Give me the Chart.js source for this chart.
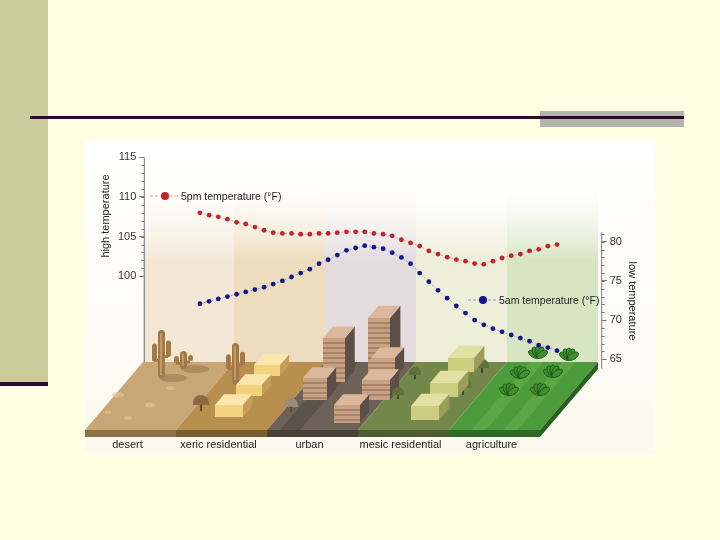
<!DOCTYPE html>
<html>
<head>
<meta charset="utf-8">
<title>High and low temperature across land use</title>
<script src="https://cdn.jsdelivr.net/npm/chart.js@4.4.1/dist/chart.umd.min.js"></script>
<style>
    html, body { margin: 0; padding: 0; background: #ffffe4; }
    canvas { display: block; }
</style>
</head>
<body>
<canvas id="tempChart" width="720" height="540"></canvas>
<script>
// values, one sample per dot along the transect
const zones = ['desert', 'xeric residential', 'urban', 'mesic residential', 'agriculture'];
const highTemp = [108.0, 107.7, 107.5, 107.2, 106.8, 106.6, 106.2, 105.8, 105.5, 105.4,
    105.4, 105.3, 105.3, 105.4, 105.4, 105.5, 105.6, 105.6, 105.6, 105.4,
    105.3, 105.1, 104.6, 104.2, 103.8, 103.2, 102.8, 102.4, 102.1, 101.9,
    101.6, 101.5, 101.9, 102.3, 102.6, 102.8, 103.2, 103.4, 103.8, 104.0];
const lowTemp = [72.1, 72.4, 72.7, 73.0, 73.3, 73.6, 73.9, 74.2, 74.6, 75.0,
    75.5, 76.0, 76.5, 77.2, 77.7, 78.3, 78.9, 79.2, 79.5, 79.3,
    79.1, 78.6, 78.0, 77.2, 76.0, 74.9, 73.8, 72.8, 71.8, 70.9,
    70.0, 69.4, 68.9, 68.5, 68.1, 67.7, 67.3, 66.8, 66.5, 66.1];
const highTicks = [100, 105, 110, 115];
const lowTicks = [65, 70, 75, 80];
const seriesNames = ['5pm temperature (°F)', '5am temperature (°F)'];
const axisTitles = ['high temperature', 'low temperature'];

const FONT = '"Liberation Sans", Arial, sans-serif';
const RED = '#c1232b', BLUE = '#15168a';

// ground slab geometry (picture, not data)
const front = [85, 176, 267, 358, 449, 540];
const DEPTH_X = 58, DEPTH_Y = -68, GROUND_FRONT = 430, GROUND_BACK = 362;
const zoneTop = ['#c9a676', '#b98f4e', '#6d6257', '#74874a', '#4c9b3c'];
const zoneFront = ['#8d7049', '#7c5d2f', '#4a4139', '#4c5d2f', '#2f6b27'];
const zoneWall = ['#f3e8d6', '#eddcbd', '#e4dcde', '#edefd9', '#d8e5c3'];

function poly(ctx, pts, fill) {
    ctx.beginPath();
    ctx.moveTo(pts[0][0], pts[0][1]);
    pts.slice(1).forEach(p => ctx.lineTo(p[0], p[1]));
    ctx.closePath();
    ctx.fillStyle = fill;
    ctx.fill();
}

// oblique box: x,y = bottom-left of the front face
function box(ctx, x, y, w, h, d, c, stripes) {
    const dx = d * 0.65, dy = -d * 0.76;
    poly(ctx, [[x + w, y], [x + w, y - h], [x + w + dx, y - h + dy], [x + w + dx, y + dy]], c.side);
    poly(ctx, [[x, y - h], [x + w, y - h], [x + w + dx, y - h + dy], [x + dx, y - h + dy]], c.top);
    ctx.fillStyle = c.front;
    ctx.fillRect(x, y - h, w, h);
    if (stripes) {
        ctx.fillStyle = c.stripe;
        for (let s = y - h + 4; s < y - 1; s += 5) ctx.fillRect(x, s, w, 2);
    }
}

function cactus(ctx, x, base, h) {
    ctx.fillStyle = 'rgba(120,90,50,0.35)';
    ctx.beginPath(); ctx.ellipse(x + 12, base, 14, 4, 0, 0, Math.PI * 2); ctx.fill();
    ctx.fillStyle = '#a27a4a';
    ctx.beginPath(); ctx.roundRect(x - 3, base - h, 7, h, 3.5); ctx.fill();
    ctx.beginPath(); ctx.roundRect(x - 9, base - h * 0.72, 5, h * 0.38, 2.5); ctx.fill();
    ctx.beginPath(); ctx.roundRect(x + 5, base - h * 0.78, 5, h * 0.34, 2.5); ctx.fill();
    ctx.fillRect(x - 7, base - h * 0.4, 5, 3);
    ctx.fillRect(x + 3, base - h * 0.48, 4, 3);
    ctx.fillStyle = '#c49a64';
    ctx.fillRect(x - 1, base - h + 3, 2, h - 6);
}

function tree(ctx, x, y, r, crown, trunk) {
    ctx.fillStyle = trunk;
    ctx.fillRect(x - 1, y - 2, 2, r + 2);
    ctx.fillStyle = crown;
    ctx.beginPath(); ctx.arc(x, y, r, Math.PI, 0); ctx.lineTo(x + r, y + 2); ctx.lineTo(x - r, y + 2); ctx.fill();
}

function plant(ctx, x, y) {
    ctx.fillStyle = '#3f8f30';
    ctx.strokeStyle = '#1f5a1a';
    ctx.lineWidth = 1;
    [-1.0, -0.45, 0, 0.45, 1.0].forEach(a => {
        ctx.beginPath();
        ctx.ellipse(x + Math.sin(a) * 5, y - Math.cos(a) * 5, 3, 6, a, 0, Math.PI * 2);
        ctx.fill(); ctx.stroke();
    });
}

const scenery = {
    id: 'scenery',
    beforeDraw(chart) {
        const ctx = chart.ctx;
        ctx.save();
        // slide
        ctx.fillStyle = '#ffffe4'; ctx.fillRect(0, 0, 720, 540);
        ctx.fillStyle = '#cbcb9b'; ctx.fillRect(0, 0, 48, 382);
        ctx.fillStyle = '#2d0b2b'; ctx.fillRect(0, 382, 48, 4);
        ctx.fillStyle = '#b4b4aa'; ctx.fillRect(540, 111, 144, 16);
        ctx.fillStyle = '#2d0b2b'; ctx.fillRect(30, 116, 654, 3);
        // picture
        const bg = ctx.createLinearGradient(0, 140, 0, 453);
        bg.addColorStop(0, '#ffffff'); bg.addColorStop(1, '#fcf9ef');
        ctx.fillStyle = bg; ctx.fillRect(85, 140, 570, 313);
        // back wall bands
        for (let i = 0; i < zones.length; i++) {
            const g = ctx.createLinearGradient(0, 175, 0, GROUND_BACK);
            g.addColorStop(0, 'rgba(255,255,255,0)');
            g.addColorStop(0.45, zoneWall[i]);
            g.addColorStop(1, zoneWall[i]);
            ctx.fillStyle = g;
            ctx.fillRect(front[i] + DEPTH_X, 170, front[i + 1] - front[i], GROUND_BACK - 170);
        }
        // ground slab
        for (let i = 0; i < zones.length; i++) {
            const a = front[i], b = front[i + 1];
            poly(ctx, [[a, GROUND_FRONT], [b, GROUND_FRONT], [b + DEPTH_X, GROUND_BACK], [a + DEPTH_X, GROUND_BACK]], zoneTop[i]);
            ctx.fillStyle = zoneFront[i];
            ctx.fillRect(a, GROUND_FRONT, b - a, 7);
        }
        poly(ctx, [[540, 430], [598, 362], [598, 369], [540, 437]], '#2a5f22');
        // agriculture rows
        [0.25, 0.6].forEach(f => {
            const x = 449 + (540 - 449) * f;
            poly(ctx, [[x, 430], [x + 14, 430], [x + 14 + DEPTH_X, 362], [x + DEPTH_X, 362]], 'rgba(120,190,90,0.35)');
        });
        // urban shadows
        poly(ctx, [[280, 430], [300, 430], [358, 362], [338, 362]], 'rgba(40,35,30,0.25)');
        // desert pebbles
        ctx.fillStyle = 'rgba(230,200,150,0.6)';
        [[118, 395, 6], [150, 405, 5], [128, 418, 4], [170, 388, 4], [108, 412, 3]].forEach(p => {
            ctx.beginPath(); ctx.ellipse(p[0], p[1], p[2], p[2] * 0.5, 0, 0, Math.PI * 2); ctx.fill();
        });

        cactus(ctx, 161, 378, 48);
        cactus(ctx, 183, 369, 18);
        cactus(ctx, 235, 383, 40);

        const yellow = { front: '#f2d27f', top: '#fbe7ae', side: '#c59c5a' };
        box(ctx, 254, 376, 26, 11, 14, yellow);
        box(ctx, 236, 396, 26, 11, 14, yellow);
        box(ctx, 215, 417, 28, 12, 14, yellow);
        tree(ctx, 201, 403, 8, '#8b6a44', '#5e4a30');
        tree(ctx, 291, 405, 7, '#9a8a78', '#5a4d40');

        const tan = { front: '#c8a084', top: '#dbb89c', side: '#5b4f48', stripe: '#a8836a' };
        box(ctx, 368, 375, 22, 57, 16, tan, true);
        box(ctx, 371, 378, 24, 20, 14, tan, true);
        box(ctx, 323, 382, 22, 44, 15, tan, true);
        box(ctx, 303, 400, 24, 22, 14, tan, true);
        box(ctx, 362, 400, 28, 20, 14, tan, true);
        box(ctx, 334, 423, 26, 18, 14, tan, true);

        const olive = { front: '#cdcd80', top: '#e1e1a4', side: '#9d9d58' };
        tree(ctx, 482, 366, 7, '#5f7038', '#3f4a26');
        box(ctx, 448, 372, 26, 14, 16, olive);
        tree(ctx, 415, 373, 6, '#5f7038', '#3f4a26');
        tree(ctx, 463, 386, 9, '#66783e', '#3f4a26');
        box(ctx, 430, 397, 28, 14, 16, olive);
        tree(ctx, 398, 393, 6, '#5f7038', '#3f4a26');
        box(ctx, 411, 420, 28, 14, 16, olive);

        [[538, 357], [569, 359], [520, 377], [553, 376], [509, 394], [540, 394]].forEach(p => plant(ctx, p[0], p[1]));

        // zone names under the slab
        ctx.fillStyle = '#222';
        ctx.font = '11px ' + FONT;
        ctx.textAlign = 'center';
        ctx.textBaseline = 'middle';
        zones.forEach((z, i) => ctx.fillText(z, (front[i] + front[i + 1]) / 2 - 3, 445));
        ctx.restore();
    },
    beforeDatasetsDraw(chart) {
        const ctx = chart.ctx, hi = chart.scales.yHigh, lo = chart.scales.yLow;
        ctx.save();
        ctx.strokeStyle = '#7a7a7a';
        ctx.lineWidth = 1;
        ctx.beginPath();
        ctx.moveTo(hi.right, hi.getPixelForValue(highTicks[highTicks.length - 1]));
        ctx.lineTo(hi.right, GROUND_BACK);
        ctx.moveTo(lo.left, lo.getPixelForValue(81.2));
        ctx.lineTo(lo.left, lo.getPixelForValue(63.8));
        for (let v = highTicks[0]; v < highTicks[highTicks.length - 1]; v++) {
            const y = Math.round(hi.getPixelForValue(v)) + 0.5;
            ctx.moveTo(hi.right - 3, y); ctx.lineTo(hi.right, y);
        }
        for (let v = lowTicks[0]; v <= lowTicks[lowTicks.length - 1] + 1; v++) {
            const y = Math.round(lo.getPixelForValue(v)) + 0.5;
            ctx.moveTo(lo.left, y); ctx.lineTo(lo.left + 3, y);
        }
        ctx.stroke();

        ctx.fillStyle = '#222';
        ctx.font = '11px ' + FONT;
        ctx.textAlign = 'center';
        ctx.textBaseline = 'middle';
        ctx.translate(106, 216); ctx.rotate(-Math.PI / 2);
        ctx.fillText(axisTitles[0], 0, 0);
        ctx.setTransform(1, 0, 0, 1, 0, 0);
        ctx.translate(632, 301); ctx.rotate(Math.PI / 2);
        ctx.fillText(axisTitles[1], 0, 0);
        ctx.restore();
    },
    afterDatasetsDraw(chart) {
        const ctx = chart.ctx;
        const items = [
            { x: 165, y: 196, c: RED, line: '#e49a9a', text: seriesNames[0] },
            { x: 483, y: 300, c: BLUE, line: '#8f98c8', text: seriesNames[1] }
        ];
        ctx.save();
        items.forEach(it => {
            ctx.strokeStyle = it.line;
            ctx.setLineDash([3, 2]);
            ctx.beginPath(); ctx.moveTo(it.x - 15, it.y); ctx.lineTo(it.x + 13, it.y); ctx.stroke();
            ctx.setLineDash([]);
            ctx.fillStyle = it.c;
            ctx.beginPath(); ctx.arc(it.x, it.y, 4, 0, Math.PI * 2); ctx.fill();
            ctx.fillStyle = '#222';
            ctx.font = '10.5px ' + FONT;
            ctx.textBaseline = 'middle';
            ctx.fillText(it.text, it.x + 16, it.y + 1);
        });
        ctx.restore();
    }
};

const station = highTemp.map((v, i) => i);

function lineSet(label, values, color, lineColor, axis) {
    return {
        label: label,
        data: values.map((v, i) => ({ x: station[i], y: v })),
        yAxisID: axis,
        borderColor: lineColor,
        borderWidth: 1,
        borderDash: [2, 2],
        pointRadius: 2.4,
        pointBorderWidth: 0,
        pointBackgroundColor: color,
        tension: 0
    };
}

const ctx = document.getElementById('tempChart').getContext('2d');
const tempChart = new Chart(ctx, {
    type: 'line',
    data: {
        datasets: [
            lineSet(seriesNames[0], highTemp, RED, '#e8a0a0', 'yHigh'),
            lineSet(seriesNames[1], lowTemp, BLUE, '#98a0d0', 'yLow')
        ]
    },
    options: {
        responsive: false,
        animation: false,
        devicePixelRatio: 1,
        layout: { padding: { left: 85, right: 65, top: 157.3, bottom: 167 } },
        plugins: { legend: { display: false }, tooltip: { enabled: false } },
        scales: {
            x: { type: 'linear', min: -6.08, max: 43.88, display: false },
            yHigh: {
                position: 'left',
                min: 87.8,
                max: 115,
                afterBuildTicks: s => { s.ticks = highTicks.map(v => ({ value: v })); },
                afterFit: s => { s.width = 59.3; },
                grid: { drawOnChartArea: false, tickLength: 5, tickColor: '#7a7a7a' },
                border: { display: false },
                ticks: { padding: 3, color: '#333', font: { family: FONT, size: 11 } }
            },
            yLow: {
                position: 'right',
                min: 63.25,
                max: 90.77,
                afterBuildTicks: s => { s.ticks = lowTicks.map(v => ({ value: v })); },
                afterFit: s => { s.width = 53.3; },
                grid: { drawOnChartArea: false, tickLength: 5, tickColor: '#7a7a7a' },
                border: { display: false },
                ticks: { padding: 3, color: '#333', font: { family: FONT, size: 11 } }
            }
        }
    },
    plugins: [scenery]
});
</script>
</body>
</html>
